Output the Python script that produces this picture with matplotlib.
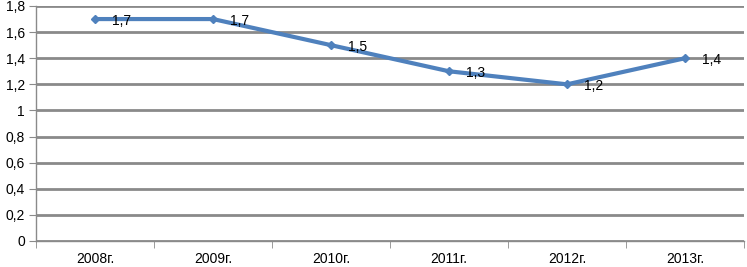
import matplotlib.pyplot as plt
from matplotlib.ticker import FuncFormatter, MultipleLocator
import numpy as np

years = ['2008г.', '2009г.', '2010г.', '2011г.', '2012г.', '2013г.']
values = [1.7, 1.7, 1.5, 1.3, 1.2, 1.4]

plt.rcParams['font.family'] = ['Liberation Sans', 'DejaVu Sans']

fig = plt.figure(figsize=(7.47, 2.67), dpi=100)
ax = fig.add_axes([36 / 747, 1 - 241 / 267, 708 / 747, 235 / 267])

x = np.arange(len(years))
ax.plot(x, values, color='#4F81BD', linewidth=3, marker='D', markersize=4,
        markerfacecolor='#4F81BD', markeredgecolor='#4F81BD', zorder=3)

for xi, v in zip(x, values):
    ax.annotate(f'{v:g}'.replace('.', ','), (xi, v), xytext=(12, -1.5),
                textcoords='offset points', ha='left', va='center', fontsize=10)

ax.set_xlim(-0.5, len(years) - 0.5)
ax.set_ylim(0, 1.8)
ax.yaxis.set_major_locator(MultipleLocator(0.2))
ax.yaxis.set_major_formatter(FuncFormatter(lambda v, p: f'{v:.1f}'.rstrip('0').rstrip('.').replace('.', ',')))
ax.set_xticks(x)
ax.set_xticklabels(years)
ax.set_xticks(np.arange(-0.5, len(years)), minor=True)

ax.grid(axis='y', color='#8a8a8a', linewidth=2)
ax.set_axisbelow(True)
for s in ['top', 'right']:
    ax.spines[s].set_visible(False)
for s in ['left', 'bottom']:
    ax.spines[s].set_color('#8a8a8a')
    ax.spines[s].set_linewidth(1)

ax.tick_params(axis='x', which='major', length=0, labelsize=10, pad=8)
ax.tick_params(axis='x', which='minor', length=5, color='#8a8a8a', direction='out')
ax.tick_params(axis='y', length=5, color='#8a8a8a', labelsize=10, pad=3)

fig.savefig('out.png', dpi=100)
